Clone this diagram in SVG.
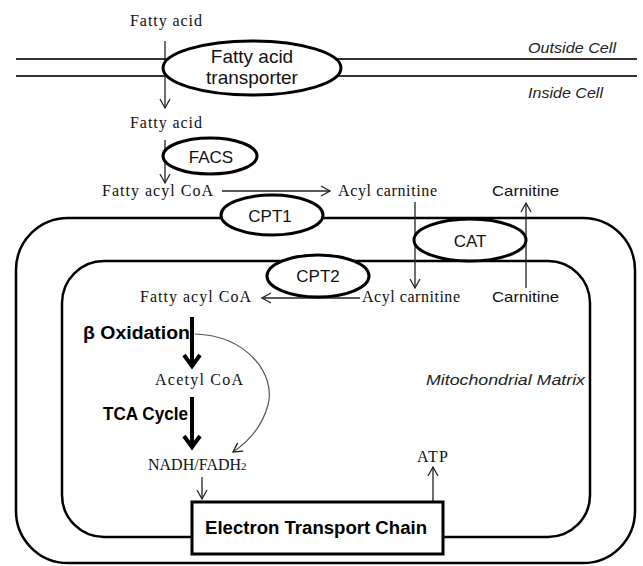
<svg xmlns="http://www.w3.org/2000/svg" width="643" height="566" viewBox="0 0 643 566">
<defs>
<style>
.serif{font-family:"Liberation Serif","Times New Roman",serif;font-size:16px;fill:#111}
.sans{font-family:"Liberation Sans",Arial,sans-serif;font-size:15px;fill:#111}
.ital{font-family:"Liberation Sans",Arial,sans-serif;font-size:15px;font-style:italic;fill:#222}
.bold{font-family:"Liberation Sans",Arial,sans-serif;font-size:18px;font-weight:bold;fill:#000}
.enz{fill:#fff;stroke:#000;stroke-width:3}
.wall{fill:none;stroke:#000;stroke-width:2.5}
.thin{fill:none;stroke:#222;stroke-width:1.3}
.mem{stroke:#333;stroke-width:1.8}
.thick{fill:none;stroke:#000;stroke-width:4}
</style>
<marker id="open" markerWidth="12" markerHeight="12" refX="10" refY="6" orient="auto" markerUnits="userSpaceOnUse">
<path d="M1,1 L10,6 L1,11" fill="none" stroke="#222" stroke-width="1.3"/>
</marker>
</defs>
<rect width="643" height="566" fill="#fff"/>

<g id="membrane">
<line class="mem" x1="16" y1="59" x2="637" y2="59"/>
<line class="mem" x1="16" y1="76" x2="637" y2="76"/>
<text class="ital" x="528" y="53" textLength="88" lengthAdjust="spacingAndGlyphs">Outside Cell</text>
<text class="ital" x="528" y="98" textLength="75" lengthAdjust="spacingAndGlyphs">Inside Cell</text>
</g>

<g id="mito-outer">
<rect class="wall" x="16" y="218" width="619" height="345" rx="52"/>
</g>
<g id="mito-inner">
<rect class="wall" x="62" y="261" width="528" height="276" rx="42"/>
<text class="ital" x="426" y="385" textLength="159" lengthAdjust="spacingAndGlyphs">Mitochondrial Matrix</text>
</g>

<g id="connectors">
<line class="thin" x1="165" y1="41" x2="165" y2="108" marker-end="url(#open)"/>
<line class="thin" x1="165" y1="140" x2="165" y2="183" marker-end="url(#open)"/>
<line class="thin" x1="222" y1="191" x2="330" y2="191" marker-end="url(#open)"/>
<line class="thin" x1="415" y1="202" x2="415" y2="288" marker-end="url(#open)"/>
<line class="thin" x1="526" y1="288" x2="526" y2="203" marker-end="url(#open)"/>
<line class="thin" x1="360" y1="298" x2="262" y2="298" marker-end="url(#open)"/>
<line class="thin" x1="202" y1="477" x2="202" y2="499" marker-end="url(#open)"/>
<line class="thin" x1="433" y1="502" x2="433" y2="467" marker-end="url(#open)"/>
<path d="M195,334 C248,336 276,375 268,405 C262,427 248,442 233,452" fill="none" stroke="#555" stroke-width="1.2" marker-end="url(#open)"/>
<line class="thick" x1="192" y1="317" x2="192" y2="364"/>
<path class="thick" d="M184,355 L192,366 L200,355"/>
<line class="thick" x1="192" y1="397" x2="192" y2="445"/>
<path class="thick" d="M184,436 L192,447 L200,436"/>
</g>

<g id="transporter">
<ellipse class="enz" cx="252" cy="68" rx="89" ry="27"/>
<text class="sans" style="font-size:19px" x="252" y="63" text-anchor="middle">Fatty acid</text>
<text class="sans" style="font-size:19px" x="252" y="84" text-anchor="middle">transporter</text>
</g>
<g id="facs">
<ellipse class="enz" cx="210" cy="156" rx="47" ry="18"/>
<text class="sans" style="font-size:17px" x="211" y="163" text-anchor="middle">FACS</text>
</g>
<g id="cpt1">
<ellipse class="enz" cx="272" cy="215" rx="51" ry="20"/>
<text class="sans" style="font-size:17px" x="270" y="222" text-anchor="middle">CPT1</text>
</g>
<g id="cpt2">
<ellipse class="enz" cx="318" cy="276" rx="51" ry="21"/>
<text class="sans" style="font-size:17px" x="318" y="282" text-anchor="middle">CPT2</text>
</g>
<g id="cat">
<ellipse class="enz" cx="470" cy="240" rx="56" ry="21"/>
<text class="sans" style="font-size:17px" x="470" y="247" text-anchor="middle">CAT</text>
</g>

<g id="fa-out"><text class="serif" x="130" y="26" textLength="72">Fatty acid</text></g>
<g id="fa-in"><text class="serif" x="130" y="128" textLength="72">Fatty acid</text></g>
<g id="facoa-cyt"><text class="serif" x="102" y="196" textLength="111">Fatty acyl CoA</text></g>
<g id="acylcarn-cyt"><text class="serif" x="338" y="196" textLength="99">Acyl carnitine</text></g>
<g id="carn-cyt"><text class="sans" x="492" y="196" textLength="67" lengthAdjust="spacingAndGlyphs">Carnitine</text></g>
<g id="acylcarn-mat"><text class="serif" x="362" y="302" textLength="98">Acyl carnitine</text></g>
<g id="carn-mat"><text class="sans" x="492" y="302" textLength="67" lengthAdjust="spacingAndGlyphs">Carnitine</text></g>
<g id="facoa-mat"><text class="serif" x="140" y="302" textLength="111">Fatty acyl CoA</text></g>
<g id="beta-ox"><text class="bold" x="83" y="339" textLength="107" lengthAdjust="spacingAndGlyphs">β Oxidation</text></g>
<g id="acetyl"><text class="serif" x="155" y="385" textLength="88">Acetyl CoA</text></g>
<g id="tca"><text class="bold" x="103" y="420" textLength="85" lengthAdjust="spacingAndGlyphs">TCA Cycle</text></g>
<g id="nadh"><text class="serif" x="148" y="470">NADH/FADH<tspan style="font-size:11px">2</tspan></text></g>
<g id="atp"><text class="serif" x="417" y="462" textLength="31">ATP</text></g>

<g id="etc">
<rect x="192" y="502" width="251" height="52" fill="#fff" stroke="#000" stroke-width="3"/>
<text class="bold" x="205" y="534" textLength="222" lengthAdjust="spacingAndGlyphs">Electron Transport Chain</text>
</g>
</svg>
